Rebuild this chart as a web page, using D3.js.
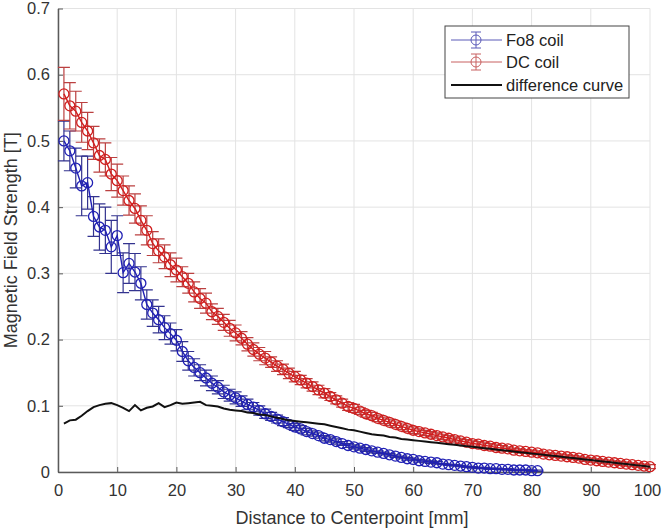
<!DOCTYPE html>
<html><head><meta charset="utf-8">
<script src="https://cdn.jsdelivr.net/npm/d3@7"></script>
<style>body{margin:0;background:#fff;} svg{display:block;font-family:"Liberation Sans",Arial,sans-serif;}</style>
</head><body>
<script>
// ---- data ----
const xTicks = [0,10,20,30,40,50,60,70,80,90,100];
const yTicks = [0,0.1,0.2,0.3,0.4,0.5,0.6,0.7];
const seriesNames = ["Fo8 coil","DC coil","difference curve"];
const fo8Dist = d3.range(1,82);
const fo8Val = [0.500,0.485,0.459,0.432,0.437,0.386,0.370,0.365,0.340,0.357,
0.301,0.315,0.302,0.285,0.253,0.240,0.230,0.218,0.209,0.199,
0.182,0.168,0.158,0.150,0.142,0.134,0.128,0.121,0.116,0.112,
0.107,0.102,0.098,0.093,0.088,0.084,0.080,0.076,0.072,0.068,
0.065,0.061,0.058,0.055,0.051,0.049,0.046,0.043,0.040,0.038,
0.036,0.034,0.032,0.030,0.028,0.026,0.024,0.022,0.020,0.019,
0.017,0.016,0.015,0.014,0.012,0.011,0.010,0.009,0.008,0.007,
0.006,0.006,0.005,0.005,0.004,0.004,0.003,0.003,0.003,0.002,0.002];
const fo8Err = [0.030,0.030,0.030,0.045,0.040,0.030,0.035,0.035,0.040,0.030,
0.030,0.030,0.028,0.025,0.022,0.020,0.020,0.018,0.016,0.016,
0.015,0.014,0.013,0.012,0.012,0.011,0.010,0.010,0.009,0.009,
0.008,0.008,0.007,0.007,0.007,0.006,0.006,0.006,0.005,0.005,
0.005,0.005,0.004,0.004,0.004,0.004,0.004,0.003,0.003,0.003,
0.003,0.003,0.003,0.002,0.002,0.002,0.002,0.002,0.002,0.002,
0.002,0.002,0.002,0.002,0.001,0.001,0.001,0.001,0.001,0.001,
0.001,0.001,0.001,0.001,0.001,0.001,0.001,0.001,0.001,0.001,0.001];
const dcDist = d3.range(1,101);
const dcVal = [0.571,0.553,0.545,0.528,0.515,0.497,0.478,0.472,0.450,0.440,
0.425,0.410,0.398,0.380,0.365,0.345,0.334,0.325,0.313,0.305,
0.295,0.285,0.272,0.262,0.255,0.242,0.235,0.226,0.217,0.210,
0.202,0.193,0.185,0.178,0.172,0.166,0.160,0.155,0.149,0.144,
0.139,0.134,0.129,0.124,0.119,0.114,0.109,0.104,0.099,0.096,
0.092,0.088,0.085,0.081,0.078,0.075,0.072,0.069,0.066,0.063,
0.061,0.059,0.057,0.055,0.053,0.051,0.049,0.047,0.045,0.043,
0.042,0.040,0.039,0.037,0.036,0.035,0.033,0.032,0.031,0.030,
0.029,0.027,0.026,0.025,0.024,0.023,0.022,0.021,0.019,0.018,
0.017,0.016,0.015,0.014,0.013,0.012,0.011,0.010,0.009,0.008];
const dcErr = [0.040,0.035,0.030,0.030,0.028,0.025,0.025,0.025,0.025,0.025,
0.022,0.022,0.022,0.022,0.022,0.018,0.018,0.018,0.018,0.018,
0.015,0.015,0.015,0.015,0.015,0.012,0.012,0.012,0.012,0.012,
0.010,0.010,0.010,0.010,0.010,0.008,0.008,0.008,0.008,0.008,
0.007,0.007,0.007,0.007,0.007,0.006,0.006,0.006,0.006,0.006,
0.005,0.005,0.005,0.005,0.005,0.005,0.005,0.005,0.005,0.005,
0.004,0.004,0.004,0.004,0.004,0.004,0.004,0.004,0.004,0.004,
0.004,0.004,0.004,0.004,0.004,0.003,0.003,0.003,0.003,0.003,
0.003,0.003,0.003,0.003,0.003,0.003,0.003,0.003,0.003,0.003,
0.003,0.003,0.003,0.003,0.003,0.003,0.003,0.003,0.003,0.003];
const diffDist = d3.range(1,101);
const diffVal = [0.073,0.078,0.079,0.085,0.092,0.098,0.101,0.103,0.104,0.101,
0.097,0.092,0.101,0.093,0.097,0.099,0.104,0.098,0.101,0.105,
0.103,0.104,0.105,0.106,0.101,0.100,0.099,0.096,0.094,0.093,
0.092,0.090,0.089,0.087,0.086,0.084,0.082,0.080,0.078,0.077,
0.076,0.075,0.074,0.073,0.072,0.070,0.068,0.066,0.064,0.063,
0.061,0.059,0.057,0.056,0.055,0.053,0.052,0.050,0.049,0.048,
0.047,0.046,0.045,0.044,0.043,0.042,0.041,0.040,0.039,0.038,
0.037,0.036,0.035,0.034,0.033,0.032,0.031,0.030,0.029,0.028,
0.027,0.026,0.025,0.024,0.023,0.022,0.021,0.020,0.019,0.018,
0.017,0.016,0.015,0.014,0.013,0.012,0.011,0.010,0.009,0.008];

// ---- drawing ----
const W = 663, H = 531;
const m = {l:58, r:13, t:8.5, b:59};
const iw = W - m.l - m.r, ih = H - m.t - m.b;
const svg = d3.select("body").append("svg").attr("width",W).attr("height",H);
const g = svg.append("g").attr("transform",`translate(${m.l},${m.t})`);
const x = d3.scaleLinear().domain([0,100]).range([0,iw]);
const y = d3.scaleLinear().domain([0,0.7]).range([ih,0]);

// grid
g.append("g").selectAll("line").data(xTicks).join("line")
  .attr("x1",d=>x(d)).attr("x2",d=>x(d)).attr("y1",0).attr("y2",ih)
  .attr("stroke","#e3e3e3").attr("stroke-width",1);
g.append("g").selectAll("line").data(yTicks).join("line")
  .attr("x1",0).attr("x2",iw).attr("y1",d=>y(d)).attr("y2",d=>y(d))
  .attr("stroke","#e3e3e3").attr("stroke-width",1);

// axes
const xAx = g.append("g").attr("transform",`translate(0,${ih})`)
  .call(d3.axisBottom(x).tickValues(xTicks).tickSizeInner(-5).tickSizeOuter(0).tickPadding(12).tickFormat(d3.format("d")));
const yAx = g.append("g")
  .call(d3.axisLeft(y).tickValues(yTicks).tickSizeInner(-5).tickSizeOuter(0).tickPadding(8).tickFormat(d=>d===0?"0":d3.format(".1f")(d)));
[xAx,yAx].forEach(a=>{
  a.select(".domain").attr("stroke","#5a5a5a").attr("stroke-width",1.5);
  a.selectAll(".tick line").attr("stroke","#5a5a5a");
  a.selectAll("text").attr("font-size",16.5).attr("fill","#333").attr("font-family","Liberation Sans, Arial, sans-serif");
});
xAx.selectAll(".tick text").filter(d=>d===100).attr("dx",-3);

function drawSeries(dist, vals, errs, markColor, barColor){
  const pts = dist.map((d,i)=>({x:d,v:vals[i],e:errs[i]}));
  const sg = g.append("g");
  const cap = 6;
  sg.selectAll("path.eb").data(pts).join("path").attr("class","eb")
    .attr("d",p=>{
      const cx=x(p.x), t=y(p.v+p.e), b=y(p.v-p.e);
      return `M${cx},${t}V${b}M${cx-cap},${t}H${cx+cap}M${cx-cap},${b}H${cx+cap}`;
    })
    .attr("fill","none").attr("stroke",barColor).attr("stroke-width",1.2);
  sg.append("path").datum(pts)
    .attr("d",d3.line().x(p=>x(p.x)).y(p=>y(p.v)))
    .attr("fill","none").attr("stroke",markColor).attr("stroke-width",1.4);
  sg.selectAll("circle").data(pts).join("circle")
    .attr("cx",p=>x(p.x)).attr("cy",p=>y(p.v)).attr("r",5)
    .attr("fill","none").attr("stroke",markColor).attr("stroke-width",1.3);
}
const blueM="#2020b4", blueB="#33338f", redM="#d01e1e", redB="#bb4040";
drawSeries(fo8Dist, fo8Val, fo8Err, blueM, blueB);
drawSeries(dcDist, dcVal, dcErr, redM, redB);

g.append("path").datum(diffDist.map((d,i)=>[d,diffVal[i]]))
  .attr("d",d3.line().x(p=>x(p[0])).y(p=>y(p[1])))
  .attr("fill","none").attr("stroke","#111").attr("stroke-width",2);

// axis labels
svg.append("text").attr("x",m.l+iw/2-2).attr("y",524).attr("text-anchor","middle")
  .attr("font-size",18).attr("fill","#333").text("Distance to Centerpoint [mm]");
svg.append("text").attr("transform",`translate(17,${m.t+ih/2}) rotate(-90)`).attr("text-anchor","middle")
  .attr("font-size",18).attr("fill","#333").text("Magnetic Field Strength [T]");

// legend
const lg = svg.append("g").attr("transform","translate(445,26)");
lg.append("rect").attr("width",184).attr("height",72).attr("fill","#fff").attr("stroke","#444").attr("stroke-width",1);
const legItems = [
  {name:seriesNames[0], c:"#5a5ab8", y:14, eb:true},
  {name:seriesNames[1], c:"#c86060", y:36, eb:true},
  {name:seriesNames[2], c:"#111", y:59, eb:false}
];
legItems.forEach(it=>{
  const r = lg.append("g").attr("transform",`translate(0,${it.y})`);
  r.append("line").attr("x1",6).attr("x2",57).attr("stroke",it.c).attr("stroke-width",it.eb?1:2);
  if(it.eb){
    r.append("path").attr("d","M31,-8V8M26,-8H36M26,8H36").attr("stroke",it.c).attr("fill","none");
    r.append("circle").attr("cx",31).attr("r",5).attr("fill","none").attr("stroke",it.c);
  }
  r.append("text").attr("x",61).attr("y",6).attr("font-size",16.5).attr("fill","#222").text(it.name);
});
</script>
</body></html>
